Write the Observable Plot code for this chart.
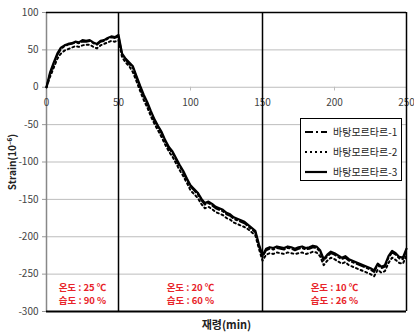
<!DOCTYPE html>
<html><head><meta charset="utf-8">
<script src="https://cdn.jsdelivr.net/npm/d3@7"></script>
<script src="https://cdn.jsdelivr.net/npm/@observablehq/plot@0.6"></script>
<style>
body{margin:0;background:#fff;}
#wrap{position:relative;width:414px;height:333px;overflow:hidden;font-family:"Noto Sans CJK KR","Noto Sans",sans-serif;}
#legend{position:absolute;left:300px;top:118px;width:102px;height:63px;background:#fff;border:1px solid #000;box-sizing:border-box;}
#legend div{position:absolute;left:4px;height:14px;font-size:10px;line-height:14px;color:#222;display:flex;align-items:center;}
#legend svg{margin-right:6px;}
</style></head><body>
<div id="wrap"></div>
<script>
const ages = [0,2.5,5,7.5,10,12.5,15,17.5,20,22.5,25,27.5,30,32.5,35,37.5,40,42.5,45,47.5,50,52.5,55,57.5,60,62.5,65,67.5,70,72.5,75,77.5,80,82.5,85,87.5,90,92.5,95,97.5,100,102.5,105,107.5,110,112.5,115,117.5,120,122.5,125,127.5,130,132.5,135,137.5,140,142.5,145,147.5,150,152.5,155,157.5,160,162.5,165,167.5,170,172.5,175,177.5,180,182.5,185,187.5,190,192.5,195,197.5,200,202.5,205,207.5,210,212.5,215,217.5,220,222.5,225,227.5,230,232.5,235,237.5,240,242.5,245,247.5,250];
const series1 = [0,18,31,43,51,55,57,58,60,59,61,61,62,59,57,61,62,65,67,66,68,43,37,31,26,13,0,-12,-22,-34,-45,-54,-62,-73,-82,-88,-97,-106,-114,-124,-133,-138,-143,-151,-157,-155,-158,-162,-164,-166,-170,-172,-176,-178,-180,-182,-186,-190,-194,-212,-227,-218,-216,-217,-215,-216,-217,-215,-216,-218,-216,-215,-217,-216,-214,-215,-220,-232,-226,-222,-224,-227,-230,-228,-232,-234,-236,-238,-240,-242,-244,-247,-238,-242,-240,-228,-221,-224,-229,-230,-218];
const series2 = [0,14,26,38,45,49,51,53,55,54,56,57,57,54,52,56,58,60,62,61,63,40,33,28,20,8,-5,-17,-27,-39,-49,-58,-67,-77,-86,-93,-102,-111,-119,-128,-138,-143,-148,-156,-162,-160,-163,-167,-169,-171,-175,-177,-181,-183,-185,-187,-190,-194,-198,-216,-232,-224,-222,-223,-221,-222,-223,-221,-222,-223,-222,-221,-223,-222,-220,-221,-226,-238,-232,-228,-230,-233,-236,-234,-238,-240,-242,-244,-246,-248,-250,-253,-244,-248,-246,-235,-228,-231,-235,-236,-225];
const series3 = [0,20,33,45,53,56,58,59,61,60,63,62,63,60,58,62,63,66,68,67,70,45,38,33,28,15,2,-10,-20,-32,-43,-52,-60,-71,-80,-86,-95,-104,-112,-122,-131,-136,-141,-149,-155,-153,-156,-160,-162,-164,-168,-170,-174,-176,-178,-180,-184,-188,-192,-210,-225,-216,-214,-215,-213,-214,-215,-213,-214,-216,-214,-213,-215,-214,-212,-213,-218,-230,-224,-220,-222,-225,-228,-226,-230,-232,-234,-236,-238,-240,-242,-245,-236,-240,-238,-226,-219,-222,-227,-228,-216];
const seriesNames = ["바탕모르타르-1","바탕모르타르-2","바탕모르타르-3"];
const xTicks = [0,50,100,150,200,250];
const yTicks = [-300,-250,-200,-150,-100,-50,0,50,100];
const phaseBounds = [50,150];
const phaseCenters = [25,100,200];
const tempLabels = ["온도 : 25 ℃","온도 : 20 ℃","온도 : 10 ℃"];
const humidLabels = ["습도 : 90 %","습도 : 60 %","습도 : 26 %"];
const xLabel = "재령(min)";
const yLabel = "Strain(10⁻⁶)";

const dashes = ["8,3,2,3","2,3",null];
const widths = [2,2,2.2];
const allSeries = [series1,series2,series3];

const lineMarks = allSeries.map((s,i)=>Plot.line(ages.map((a,j)=>({x:a,y:s[j]})),{x:"x",y:"y",stroke:"#000",strokeWidth:widths[i],strokeDasharray:dashes[i]}));

const chart = Plot.plot({
  width:414,height:333,
  marginLeft:46,marginRight:8,marginTop:12,marginBottom:22,
  style:{fontFamily:"'Noto Sans CJK KR','Noto Sans',sans-serif",fontSize:"10px",color:"#333",background:"#fff"},
  x:{domain:[0,250],axis:null},
  y:{domain:[-300,100],axis:null},
  marks:[
    Plot.gridY(yTicks.filter(d=>d>-300&&d<100),{stroke:"#bdbdbd",strokeOpacity:1,strokeWidth:1}),
    Plot.axisY({ticks:yTicks,tickFormat:d=>String(d),tickSize:4,tickPadding:4,stroke:"#999",fontSize:10,fill:"#444",label:null}),
    Plot.ruleX([0],{stroke:"#888",strokeWidth:1.5}),
    Plot.ruleX(xTicks.filter(d=>d>0&&d<250),{y1:0,y2:-5,stroke:"#bdbdbd"}),
    Plot.text(xTicks,{x:d=>d,y:0,dy:16,text:d=>String(d),fontSize:10,fill:"#444"}),
    Plot.ruleX(phaseBounds,{stroke:"#000",strokeWidth:1.5}),
    Plot.ruleX([250],{stroke:"#000",strokeWidth:1.5}),
    Plot.ruleY([100],{stroke:"#000",strokeWidth:1.5}),
    Plot.ruleY([-300],{stroke:"#000",strokeWidth:2}),
    ...lineMarks,
    Plot.text(phaseCenters,{x:d=>d,y:-269,text:(d,i)=>tempLabels[i],fill:"#e8242a",fontWeight:"bold",fontSize:9.5}),
    Plot.text(phaseCenters,{x:d=>d,y:-286,text:(d,i)=>humidLabels[i],fill:"#e8242a",fontWeight:"bold",fontSize:9.5}),
    Plot.text([xLabel],{x:125,y:-300,dy:14,text:d=>d,fontWeight:"bold",fontSize:11,fill:"#222"}),
    Plot.text([yLabel],{x:0,y:-100,dx:-34,rotate:-90,text:d=>d,fontWeight:"bold",fontSize:10,fill:"#222"})
  ]
});
const wrap = document.getElementById("wrap");
wrap.appendChild(chart);

const legend = document.createElement("div");
legend.id = "legend";
const ys = [6,26,46];
seriesNames.forEach((n,i)=>{
  const row = document.createElement("div");
  row.style.top = ys[i]+"px";
  const dash = dashes[i] ? `stroke-dasharray="${dashes[i]}"` : "";
  row.innerHTML = `<svg width="22" height="6"><line x1="0" y1="3" x2="22" y2="3" stroke="#000" stroke-width="${widths[i]}" ${dash}/></svg><span>${n}</span>`;
  legend.appendChild(row);
});
wrap.appendChild(legend);
</script>
</body></html>
